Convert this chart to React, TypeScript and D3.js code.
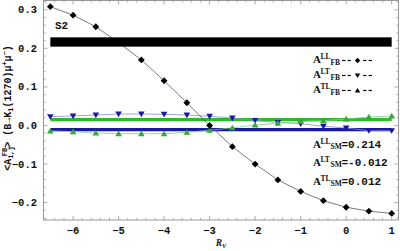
import React from "react";
import * as d3 from "d3";

const rv = [-6.5, -6, -5.5, -5, -4.5, -4, -3.5, -3, -2.5, -2, -1.5, -1, -0.5, 0, 0.5, 1];
const ll = [0.308, 0.286, 0.256, 0.215, 0.17, 0.116, 0.059, 0.0, -0.055, -0.1, -0.141, -0.171, -0.195, -0.212, -0.222, -0.228];
const lt = [0.023, 0.0246, 0.0272, 0.0298, 0.0298, 0.029, 0.0272, 0.0238, 0.0194, 0.013, 0.0078, 0.0045, -0.002, -0.0065, -0.0135, -0.0135];
const tl = [-0.0142, -0.016, -0.0194, -0.0212, -0.0212, -0.0212, -0.0176, -0.0124, -0.006, 0.001, 0.006, 0.0105, 0.0124, 0.0168, 0.022, 0.0246];

// SM bands: [lo, hi]
const bandLL = [0.2044, 0.2285];
const bandLT = [-0.015, -0.0065];
const bandTL = [0.0109, 0.0194];
const bandX = [-6.5, 1];

const xTicks = [-6, -5, -4, -3, -2, -1, 0, 1];
const yTicks = [-0.2, -0.1, 0.0, 0.1, 0.2, 0.3];
const smTexts = ["=0.214", "=-0.012", "=0.012"];
const smSup = ["LL", "LT", "TL"];

const W = 400, H = 251;
const L = 43.5, R = 398.5, T = 0.5, B = 220;

export default function App() {
  const x = d3.scaleLinear().domain([-6.65, 1.15]).range([L, R]);
  const y = d3.scaleLinear().domain([-0.245, 0.324]).range([B, T]);
  const line = d3.line<[number, number]>().x(d => x(d[0])).y(d => y(d[1]));
  const pts = (vals: number[]) => rv.map((r, i) => [r, vals[i]] as [number, number]);

  const xMinor = d3.range(-6.6, 1.15, 0.2).map(v => Math.round(v * 10) / 10);
  const yMinor = d3.range(-0.24, 0.324, 0.02).map(v => Math.round(v * 100) / 100);

  const gray = "#999";
  const mono = "'Liberation Mono', 'DejaVu Sans Mono', monospace";
  const serif = "'Liberation Serif', 'DejaVu Serif', serif";

  const diamond = (cx: number, cy: number, s = 3.4) => `M${cx},${cy - s}L${cx + s},${cy}L${cx},${cy + s}L${cx - s},${cy}Z`;
  const down = (cx: number, cy: number, s = 3.3) => `M${cx - s},${cy - s * 0.75}L${cx + s},${cy - s * 0.75}L${cx},${cy + s * 0.95}Z`;
  const up = (cx: number, cy: number, s = 3.3) => `M${cx - s},${cy + s * 0.75}L${cx + s},${cy + s * 0.75}L${cx},${cy - s * 0.95}Z`;

  const blue = "#1a1aa0";
  const green = "#2db82d";

  const legendRows = [
    { sup: "LL", yb: 62.5, marker: diamond },
    { sup: "LT", yb: 77.5, marker: down },
    { sup: "TL", yb: 92.5, marker: up },
  ];
  const smRows = [147.5, 166, 184.5];

  return (
    <svg width={W} height={H} style={{ position: "absolute", left: 0, top: 0 }}>
      <rect x={0} y={0} width={W} height={H} fill="#fff" />
      {/* bands (green, blue) */}
      <rect x={x(bandX[0])} width={x(bandX[1]) - x(bandX[0])} y={y(bandTL[1])} height={y(bandTL[0]) - y(bandTL[1])} fill={green} />
      <rect x={x(bandX[0])} width={x(bandX[1]) - x(bandX[0])} y={y(bandLT[1])} height={y(bandLT[0]) - y(bandLT[1])} fill={blue} />
      {/* LT series */}
      <path d={line(pts(lt)) || ""} fill="none" stroke="#8a8ae0" strokeWidth={0.8} />
      {pts(lt).map((p, i) => <path key={"lt" + i} d={down(x(p[0]), y(p[1]))} fill={blue} />)}
      {/* TL series */}
      <path d={line(pts(tl)) || ""} fill="none" stroke="#7fd07f" strokeWidth={0.8} />
      {pts(tl).map((p, i) => <path key={"tl" + i} d={up(x(p[0]), y(p[1]))} fill="#35a835" />)}
      {/* LL series */}
      <path d={line(pts(ll)) || ""} fill="none" stroke="#444" strokeWidth={0.7} />
      {pts(ll).map((p, i) => <path key={"ll" + i} d={diamond(x(p[0]), y(p[1]))} fill="#000" />)}
      {/* black band */}
      <rect x={x(bandX[0])} width={x(bandX[1]) - x(bandX[0])} y={y(bandLL[1])} height={y(bandLL[0]) - y(bandLL[1])} fill="#000" />

      {/* frame */}
      <rect x={L} y={T} width={R - L} height={B - T} fill="none" stroke={gray} strokeWidth={1} />
      {xMinor.map(v => {
        const major = Math.abs(v - Math.round(v)) < 1e-6;
        const len = major ? 4 : 2;
        return (
          <g key={"xm" + v}>
            <line x1={x(v)} x2={x(v)} y1={B} y2={B - len} stroke={gray} strokeWidth={0.8} />
            <line x1={x(v)} x2={x(v)} y1={T} y2={T + len} stroke={gray} strokeWidth={0.8} />
          </g>
        );
      })}
      {yMinor.map(v => {
        const major = Math.abs(v * 10 - Math.round(v * 10)) < 1e-6;
        const len = major ? 4 : 2;
        return (
          <g key={"ym" + v}>
            <line x1={L} x2={L + len} y1={y(v)} y2={y(v)} stroke={gray} strokeWidth={0.8} />
            <line x1={R} x2={R - len} y1={y(v)} y2={y(v)} stroke={gray} strokeWidth={0.8} />
          </g>
        );
      })}
      {xTicks.map(v => (
        <text key={"xt" + v} x={x(v)} y={233.5} fontFamily={mono} fontWeight="bold" fontSize={10.5} textAnchor="middle" fill="#111">
          {v < 0 ? "\u2212" + Math.abs(v) : String(v)}
        </text>
      ))}
      {yTicks.map(v => (
        <text key={"yt" + v} x={37} y={y(v) + 3.5} fontFamily={mono} fontWeight="bold" fontSize={10.5} textAnchor="end" fill="#111">
          {(v < 0 ? "\u2212" : "") + Math.abs(v).toFixed(1)}
        </text>
      ))}

      {/* axis labels */}
      <text x={221} y={246} fontFamily={serif} fontStyle="italic" fontWeight="bold" fontSize={9.5} textAnchor="middle" fill="#111">
        R<tspan fontSize={6.5} dy={2}>V</tspan>
      </text>
      <text transform={`translate(11,${108}) rotate(-90)`} fontFamily={mono} fontWeight="bold" fontSize={10} textAnchor="middle" fill="#111">
        {"<A"}
        <tspan fontSize={7} dy={2}>i,j</tspan>
        <tspan fontSize={7} dy={-6} dx={-10}>FB</tspan>
        <tspan dy={4}>{">"}</tspan>
        <tspan>{" (B\u2192K"}</tspan>
        <tspan fontSize={7} dy={2}>1</tspan>
        <tspan dy={-2}>{"(1270)\u03bc"}</tspan>
        <tspan fontSize={7} dy={-4}>+</tspan>
        <tspan dy={4}>{"\u03bc"}</tspan>
        <tspan fontSize={7} dy={-4}>{"\u2212"}</tspan>
        <tspan dy={4}>{")"}</tspan>
      </text>

      <text x={55} y={29} fontFamily={mono} fontWeight="bold" fontSize={11} fill="#111">S2</text>

      {/* legend */}
      {legendRows.map((r, i) => (
        <g key={"lg" + i}>
          <text x={313} y={r.yb} fontFamily={serif} fontWeight="bold" fontSize={11} fill="#111">A</text>
          <text x={320.5} y={r.yb - 4} fontFamily={serif} fontWeight="bold" fontSize={7.5} fill="#111">{r.sup}</text>
          <text x={330.5} y={r.yb + 2} fontFamily={serif} fontWeight="bold" fontSize={7.5} fill="#111">FB</text>
          {[[342, 345.5], [347.5, 351], [363, 366.5], [368.5, 372]].map((s, j) => (
            <line key={j} x1={s[0]} x2={s[1]} y1={r.yb - 2} y2={r.yb - 2} stroke="#111" strokeWidth={1.2} />
          ))}
          <path d={r.marker(357.5, r.yb - 2, 2.7)} fill="#000" />
        </g>
      ))}
      {smRows.map((yb, i) => (
        <g key={"sm" + i}>
          <text x={313} y={yb} fontFamily={serif} fontWeight="bold" fontSize={11} fill="#111">A</text>
          <text x={320.5} y={yb - 4} fontFamily={serif} fontWeight="bold" fontSize={7.5} fill="#111">{smSup[i]}</text>
          <text x={330.5} y={yb + 1} fontFamily={serif} fontWeight="bold" fontSize={7.5} fill="#111">SM</text>
          <text x={341.5} y={yb} fontFamily={mono} fontWeight="bold" fontSize={11} fill="#111">{smTexts[i]}</text>
        </g>
      ))}
    </svg>
  );
}
